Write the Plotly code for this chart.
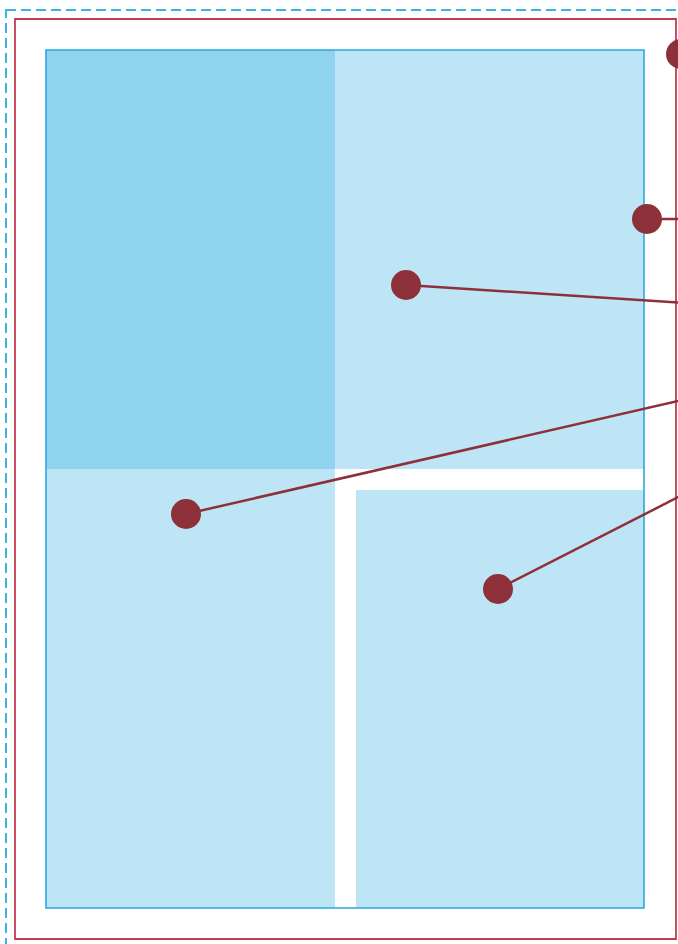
import plotly.graph_objects as go

# Frames (pixel-space coordinates on a 678x944 canvas)
frame_names = ["margin", "border", "content"]
frame_x0 = [6, 15, 46]
frame_y0 = [10, 19, 50]
frame_x1 = [720, 676, 644]
frame_y1 = [980, 939, 908]

# Filled blocks inside the content box
block_names = ["top-left", "top-right", "bottom-left", "bottom-right"]
block_x0 = [46, 335, 46, 356]
block_y0 = [50, 50, 469, 490]
block_x1 = [335, 644, 335, 644]
block_y1 = [469, 469, 908, 908]
block_colors = ["#8fd3ee", "#bee5f5", "#bee5f5", "#bee5f5"]

# Callout dots and their leader line ends
dot_x = [681, 647, 406, 186, 498]
dot_y = [54, 219, 285, 514, 589]
lead_x = [700, 700, 700, 700, 700]
lead_y = [54, 219, 304, 396, 486]

CANVAS_W = 700  # wider than the window; the page clips at 678

fig = go.Figure()

shapes = []
for x0, y0, x1, y1, c in zip(block_x0, block_y0, block_x1, block_y1, block_colors):
    shapes.append(dict(type="rect", xref="x", yref="y", x0=x0, y0=y0, x1=x1, y1=y1,
                       fillcolor=c, line=dict(width=0), layer="below"))

frame_styles = [
    dict(color="#3ab4e4", width=2, dash="10px,5px"),
    dict(color="#c23c50", width=1.8),
    dict(color="#2aa8e0", width=1.6),
]
for x0, y0, x1, y1, st in zip(frame_x0, frame_y0, frame_x1, frame_y1, frame_styles):
    shapes.append(dict(type="rect", xref="x", yref="y", x0=x0, y0=y0, x1=x1, y1=y1,
                       fillcolor="rgba(0,0,0,0)", line=st, layer="below"))

for dx, dy, lx, ly in zip(dot_x, dot_y, lead_x, lead_y):
    fig.add_trace(go.Scatter(x=[dx, lx], y=[dy, ly], mode="lines",
                             line=dict(color="#8e3039", width=2.5),
                             hoverinfo="skip", showlegend=False))

fig.add_trace(go.Scatter(x=dot_x, y=dot_y, mode="markers", cliponaxis=False,
                         marker=dict(color="#8e3039", size=30, line=dict(width=0)),
                         hoverinfo="skip", showlegend=False))

fig.update_layout(
    width=CANVAS_W, height=944,
    margin=dict(l=0, r=0, t=0, b=0),
    paper_bgcolor="white", plot_bgcolor="white",
    shapes=shapes,
    xaxis=dict(range=[0, CANVAS_W], visible=False, fixedrange=True),
    yaxis=dict(range=[944, 0], visible=False, fixedrange=True),
)

fig.write_html("out.html", config={"displayModeBar": False},
               post_script="document.body.style.margin='0';document.body.style.overflow='hidden';")
